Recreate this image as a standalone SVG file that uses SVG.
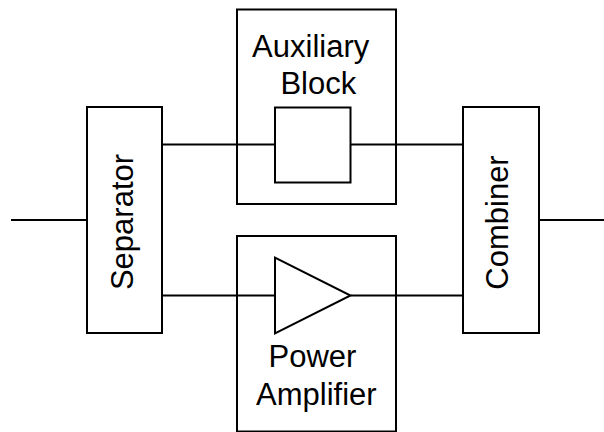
<svg xmlns="http://www.w3.org/2000/svg" width="604" height="432" viewBox="0 0 604 432">
<style>
.b{fill:#fff;stroke:#000;stroke-width:2}
.l{fill:none;stroke:#000;stroke-width:2}
.t{font-family:"Liberation Sans",Arial,sans-serif;font-size:31px;fill:#000;text-anchor:middle}
</style>
<rect width="604" height="432" fill="#fff"/>
<g id="connectors">
<line class="l" x1="11" y1="220" x2="87" y2="220"/>
<line class="l" x1="539" y1="220" x2="604" y2="220"/>
<line class="l" x1="162" y1="144.5" x2="275" y2="144.5"/>
<line class="l" x1="350.5" y1="144.5" x2="463" y2="144.5"/>
<line class="l" x1="162" y1="295.5" x2="275" y2="295.5"/>
<line class="l" x1="350.5" y1="295.5" x2="463" y2="295.5"/>
</g>
<g id="separator">
<rect class="b" x="87" y="107" width="75" height="226"/>
<text class="t" transform="translate(133.3,222) rotate(-90)" x="0" y="0">Separator</text>
</g>
<g id="combiner">
<rect class="b" x="463" y="107" width="76" height="226"/>
<text class="t" transform="translate(508.3,222.5) rotate(-90)" x="0" y="0">Combiner</text>
</g>
<g id="auxiliary">
<rect class="l" x="237" y="9.5" width="159" height="194.5"/>
<text class="t" x="310.7" y="56.7">Auxiliary</text>
<text class="t" x="318.3" y="94.3">Block</text>
<rect class="b" x="275" y="107.5" width="75.5" height="75"/>
</g>
<g id="power-amplifier">
<rect class="l" x="237" y="236" width="159" height="195.5"/>
<polygon class="b" points="275,257.5 275,333.5 350.5,295.5"/>
<text class="t" x="312.5" y="366.7">Power</text>
<text class="t" x="316.3" y="405">Amplifier</text>
</g>
</svg>
